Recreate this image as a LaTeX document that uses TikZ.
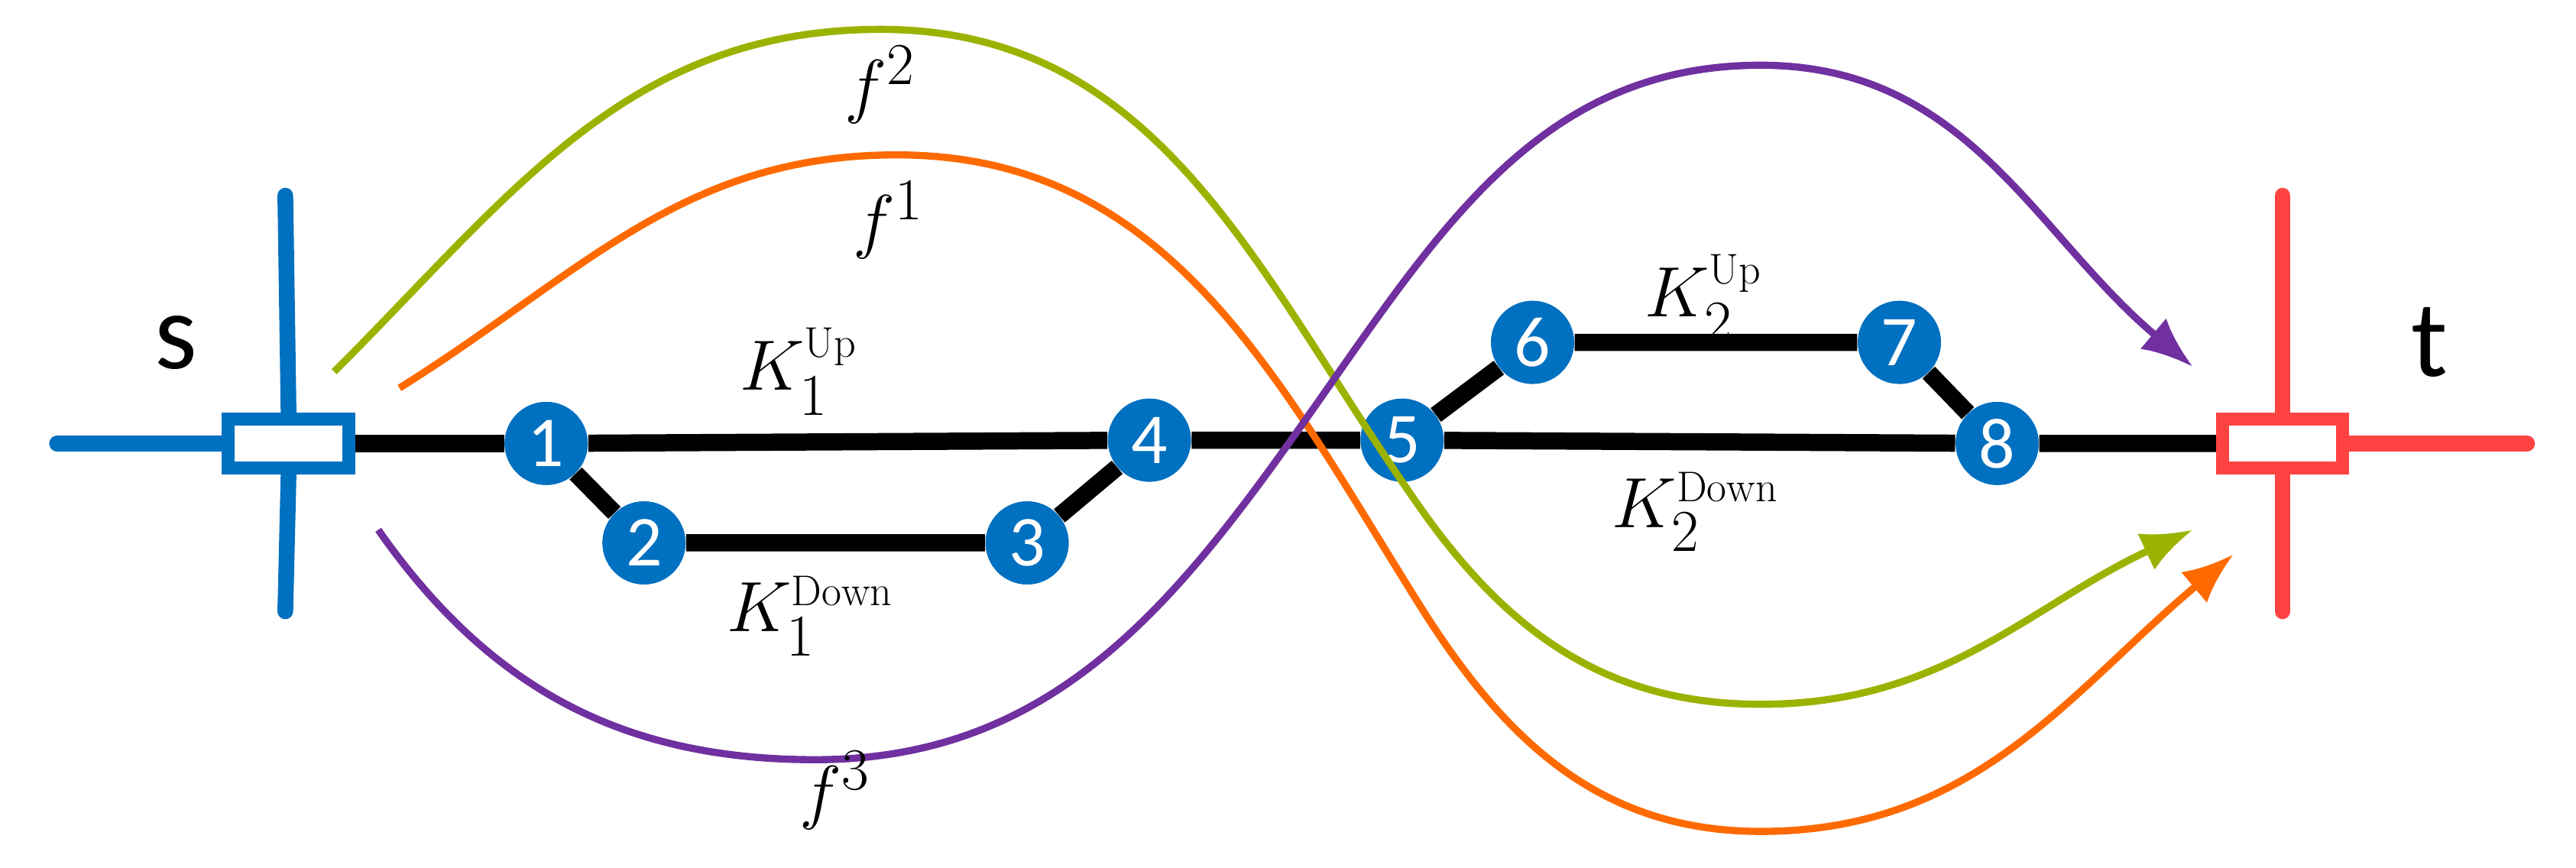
\documentclass[tikz,border=0pt]{standalone}
\usepackage{amsmath}
\usepackage{fontspec}
\newfontfamily\sansf{Carlito}
\usepackage{tikz}
\usetikzlibrary{arrows.meta}
\definecolor{sblue}{HTML}{0070C0}
\definecolor{tred}{HTML}{FF4343}
\definecolor{fgreen}{HTML}{9BB300}
\definecolor{forange}{HTML}{FF6A00}
\definecolor{fpurple}{HTML}{7030A0}
\tikzset{
	stop/.style={shape=circle, fill=sblue, text=white, minimum size=29pt, inner sep=0pt, font=\sansf\fontsize{25}{25}\selectfont},
	lbl/.style={font=\fontsize{30}{30}\selectfont},
	term/.style={font=\sansf\fontsize{38}{38}\selectfont},
	bar/.style={line width=5.5pt, line cap=round},
	flow/.style={line width=2.5pt, -{Latex[length=18pt,width=14pt]}},
}
\newcommand{\up}[1]{^{\scriptscriptstyle\mathrm{#1}}}
\begin{document}
\begin{tikzpicture}[x=0.02cm, y=-0.02cm]
	\useasboundingbox (0,0) rectangle (1580,532);

	% terminals
	\coordinate (sW) at (35, 272);
	\coordinate (sN) at (175, 120);
	\coordinate (sS) at (175, 375);
	\node[draw=sblue, line width=4.5pt, fill=white, minimum width=42pt, minimum height=17pt, inner sep=0pt] (s) at (177, 272) {};
	\draw[sblue, bar] (sW) -- (s.west);
	\draw[sblue, bar] (sN) -- (s.north);
	\draw[sblue, bar] (s.south) -- (sS);
	\node[term] (sl) at (108, 210) {s};

	\coordinate (tE) at (1550, 272);
	\coordinate (tN) at (1400, 120);
	\coordinate (tS) at (1400, 375);
	\node[draw=tred, line width=4.5pt, fill=white, minimum width=42pt, minimum height=17pt, inner sep=0pt] (t) at (1400, 272) {};
	\draw[tred, bar] (t.east) -- (tE);
	\draw[tred, bar] (tN) -- (t.north);
	\draw[tred, bar] (t.south) -- (tS);
	\node[term] (tl) at (1490, 210) {t};

	% stations
	\node[stop] (n1) at (335, 272) {1};
	\node[stop] (n2) at (395, 333) {2};
	\node[stop] (n3) at (630, 333) {3};
	\node[stop] (n4) at (705, 270) {4};
	\node[stop] (n5) at (860, 270) {5};
	\node[stop] (n6) at (940, 210) {6};
	\node[stop] (n7) at (1165, 210) {7};
	\node[stop] (n8) at (1225, 272) {8};

	\begin{scope}[line width=6pt]
	\draw (s.east) -- (n1);
	\draw (n1) -- (n4) -- (n5) -- (n8) -- (t.west);
	\draw (n1) -- (n2) -- (n3) -- (n4);
	\draw (n5) -- (n6) -- (n7) -- (n8);
	\end{scope}
	\foreach \i in {1,...,8} \node[stop] at (n\i) {\i};

	\node[lbl] (k1u) at (490, 228) {$K_1\up{Up}$};
	\node[lbl] (k1d) at (497, 378) {$K_1\up{Down}$};
	\node[lbl] (k2u) at (1045, 183) {$K_2\up{Up}$};
	\node[lbl] (k2d) at (1040, 314) {$K_2\up{Down}$};

	% flows
	\coordinate (g0) at (205, 228);
	\coordinate (g1) at (1345, 325);
	\coordinate (o0) at (245, 238);
	\coordinate (o1) at (1370, 340);
	\coordinate (p0) at (232, 325);
	\coordinate (p1) at (1345, 225);
	\draw[flow, fgreen] (g0) to[out=45,in=180] (540,18) to[out=0,in=125] (870,310)
		to[out=-55,in=180] (1080,432) to[out=0,in=205] (g1);
	\draw[flow, forange] (o0) to[out=32,in=180] (550,95) to[out=0,in=122] (870,370)
		to[out=-58,in=180] (1080,510) to[out=0,in=220] (o1);
	\draw[flow, fpurple] (p0) to[out=-55,in=180] (500,466) to[out=0,in=235] (820,230)
		to[out=55,in=180] (1080,40) to[out=0,in=140] (p1);

	\node[lbl] (f2) at (540, 52) {$f^2$};
	\node[lbl] (f1) at (545, 135) {$f^1$};
	\node[lbl] (f3) at (512, 485) {$f^3$};
\end{tikzpicture}
\end{document}
